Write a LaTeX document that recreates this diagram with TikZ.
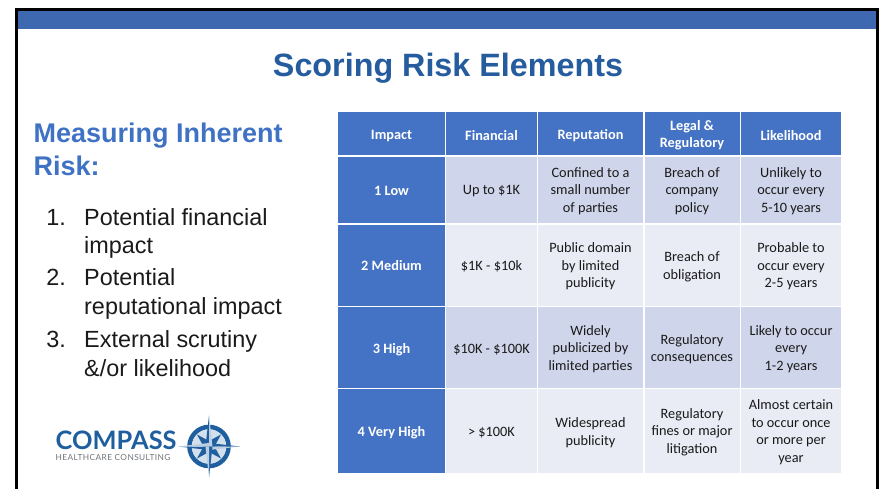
\documentclass[tikz,border=0pt]{standalone}
\usepackage{fontspec}
\setmainfont{Liberation Sans}
\newfontfamily\tablefont{Carlito}
\newfontfamily\logofont{Lato}
\newfontfamily\logosmall[LetterSpace=5]{Lato}
\definecolor{band}{HTML}{3E69B1}
\definecolor{titleblue}{HTML}{255C9E}
\definecolor{headblue}{HTML}{3F72C4}
\definecolor{cellhead}{HTML}{4472C4}
\definecolor{rowdark}{HTML}{CFD5EA}
\definecolor{rowlight}{HTML}{E9EBF5}
\definecolor{logoblue}{HTML}{1F5F9F}
\definecolor{logogray}{HTML}{6F7479}
\definecolor{ink}{HTML}{1A1A1A}
\tikzset{
  cellbase/.style={anchor=center,inner sep=0pt,align=center,font=\tablefont\fontsize{14.3}{17.6}\selectfont},
  hcell/.style={cellbase,text=white,font=\tablefont\bfseries\fontsize{14.3}{17.6}\selectfont},
  dcell/.style={cellbase,text=ink},
  listnum/.style={anchor=base east,inner sep=0pt,font=\fontsize{23.4}{29}\selectfont,text=ink},
  listitem/.style={anchor=base west,inner sep=0pt,font=\fontsize{23.4}{29}\selectfont,text=ink},
  gridline/.style={white,line width=1.2pt}
}
\begin{document}
\begin{tikzpicture}[x=1pt,y=-1pt]
\useasboundingbox (0,0) rectangle (879,489);
% frame
\fill[band] (16,9) rectangle (878,29.5);
\draw[black,line width=2.6pt] (16.3,489) -- (16.3,9.3) -- (877.7,9.3) -- (877.7,489);
% titles
\node[anchor=base,inner sep=0pt,text=titleblue,font=\bfseries\fontsize{32.3}{38}\selectfont] (title) at (448,77) {Scoring Risk Elements};
\node[anchor=base west,inner sep=0pt,text=headblue,font=\bfseries\fontsize{27}{33}\selectfont] (h1) at (33.5,142.5) {Measuring Inherent};
\node[anchor=base west,inner sep=0pt,text=headblue,font=\bfseries\fontsize{27}{33}\selectfont] (h2) at (33.5,175.5) {Risk:};
% list
\node[listnum] (n1) at (66,226) {1.};
\node[listitem] (i1a) at (84,226) {Potential financial};
\node[listitem] (i1b) at (84,253.5) {impact};
\node[listnum] (n2) at (66,286) {2.};
\node[listitem] (i2a) at (84,286) {Potential};
\node[listitem] (i2b) at (84,314.5) {reputational impact};
\node[listnum] (n3) at (66,348) {3.};
\node[listitem] (i3a) at (84,348) {External scrutiny};
\node[listitem] (i3b) at (84,376) {\&/or likelihood};
% table fills
\fill[cellhead] (338,112) rectangle (841,155.5);
\fill[cellhead] (338,157.5) rectangle (445.5,472.5);
\fill[rowdark] (445.5,157.5) rectangle (841,224);
\fill[rowlight] (445.5,224) rectangle (841,306.5);
\fill[rowdark] (445.5,306.5) rectangle (841,388.5);
\fill[rowlight] (445.5,388.5) rectangle (841,472.5);
\draw[gridline] (338,224) -- (841,224) (338,306.5) -- (841,306.5) (338,388.5) -- (841,388.5);
\draw[gridline] (445.5,112) -- (445.5,472.5) (537.5,112) -- (537.5,472.5) (644,112) -- (644,472.5) (740.5,112) -- (740.5,472.5);
% header
\node[hcell] (c00) at (391.5,135.5) {Impact};
\node[hcell] (c01) at (491.5,135.5) {Financial};
\node[hcell] (c02) at (590.5,135.5) {Reputation};
\node[hcell] (c03) at (692,135) {Legal \&\\Regulatory};
\node[hcell] (c04) at (791,135.5) {Likelihood};
% rows
\node[hcell] (c10) at (391.5,191) {1 Low};
\node[dcell] (c11) at (491.5,191) {Up to \$1K};
\node[dcell] (c12) at (590.5,191) {Confined to a\\small number\\of parties};
\node[dcell] (c13) at (692,191) {Breach of\\company\\policy};
\node[dcell] (c14) at (791,191) {Unlikely to\\occur every\\5-10 years};
\node[hcell] (c20) at (391.5,266) {2 Medium};
\node[dcell] (c21) at (491.5,266) {\$1K - \$10k};
\node[dcell] (c22) at (590.5,266.5) {Public domain\\by limited\\publicity};
\node[dcell] (c23) at (692,266.5) {Breach of\\obligation};
\node[dcell] (c24) at (791,266.5) {Probable to\\occur every\\2-5 years};
\node[hcell] (c30) at (391.5,349.5) {3 High};
\node[dcell] (c31) at (491.5,349.5) {\$10K - \$100K};
\node[dcell] (c32) at (590.5,349) {Widely\\publicized by\\limited parties};
\node[dcell] (c33) at (692,349) {Regulatory\\consequences};
\node[dcell] (c34) at (791,349) {Likely to occur\\every\\1-2 years};
\node[hcell] (c40) at (391.5,432.5) {4 Very High};
\node[dcell] (c41) at (491.5,432.5) {> \$100K};
\node[dcell] (c42) at (590.5,432.5) {Widespread\\publicity};
\node[dcell] (c43) at (692,432) {Regulatory\\fines or major\\litigation};
\node[dcell] (c44) at (791,432) {Almost certain\\to occur once\\or more per\\year};
% logo
\node[anchor=base west,inner sep=0pt,text=logoblue,font=\logofont\bfseries\fontsize{25.4}{26}\selectfont] (logo1) at (55.5,449.5) {COMPASS};
\node[anchor=base west,inner sep=0pt,text=logogray,font=\logosmall\fontsize{8.3}{9}\selectfont] (logo2) at (55.5,460) {HEALTHCARE CONSULTING};
\begin{scope}[shift={(209,446.5)}]
  \draw[logoblue,line width=4.6pt] (0,0) circle (19.5);
  \fill[white!80!logoblue] (0,0) circle (17.2);
  \foreach \a in {45,135,225,315}{
    \fill[logoblue,rotate=\a] (0,-5) -- (17,0) -- (0,5) -- cycle;
  }
  \foreach \a in {0,90,180,270}{
    \fill[logoblue,rotate=\a] (0,-3.5) -- (31,0) -- (0,0) -- cycle;
    \fill[white!70!logoblue,rotate=\a] (0,3.5) -- (31,0) -- (0,0) -- cycle;
  }
\end{scope}
\end{tikzpicture}
\end{document}
